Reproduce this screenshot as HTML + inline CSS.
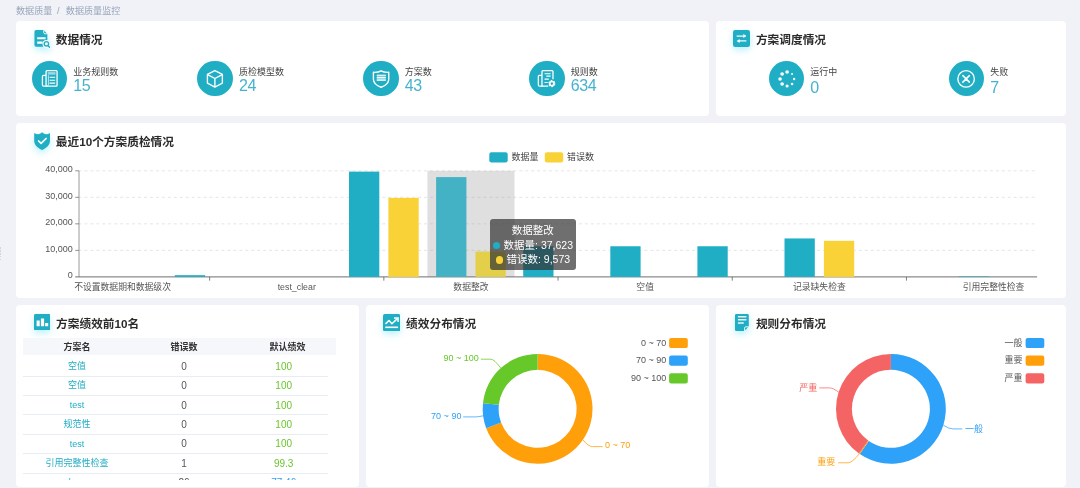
<!DOCTYPE html>
<html lang="zh-CN">
<head>
<meta charset="utf-8">
<title>数据质量监控</title>
<style>
*{box-sizing:border-box;margin:0;padding:0}
html,body{width:1080px;height:488px;overflow:hidden;background:#f0f2f7}
body{position:relative;font-family:"Liberation Sans","Noto Sans CJK SC",sans-serif;color:#333;font-size:9px;line-height:1}
.abs{position:absolute}
.card{position:absolute;background:#fff;border-radius:4px}
.crumb{position:absolute;left:16px;top:5.8px;font-size:9.1px;line-height:11px;color:#9aa5b9;white-space:nowrap}
.ttl{position:absolute;font-size:11.7px;line-height:16px;font-weight:bold;color:#2b2b2b;white-space:nowrap}
.ico{position:absolute;width:17px;height:17px;filter:drop-shadow(0 3px 3.5px rgba(90,220,245,.42))}
.circ{position:absolute;width:35.4px;height:35.4px;border-radius:50%;background:#20aec5}
.circ svg{position:absolute;left:0;top:0;width:100%;height:100%}
.lab{position:absolute;font-size:9px;line-height:11px;color:#444;white-space:nowrap}
.num{position:absolute;font-size:16px;line-height:16px;letter-spacing:-.35px;color:#45b3d0;white-space:nowrap;font-weight:normal}
svg text{font-family:"Liberation Sans","Noto Sans CJK SC",sans-serif}
.dot{display:inline-block;width:7.5px;height:7.5px;border-radius:50%;margin-right:3.4px;vertical-align:-0.5px}
.th{position:absolute;width:80px;text-align:center;font-size:9px;line-height:11px;font-weight:bold;color:#333;white-space:nowrap}
.td{position:absolute;width:100px;text-align:center;font-size:9px;line-height:11px;white-space:nowrap}
</style>
</head>
<body>
<div class="crumb">数据质量<span style="margin:0 6.3px 0 4.6px">/</span>数据质量监控</div>

<!-- grip -->
<div class="abs" style="left:0;top:247.2px;width:1px;height:13.4px;background:repeating-linear-gradient(#d3d5db 0 1.7px,transparent 1.7px 2.9px)"></div>

<div class="card" style="left:16px;top:21px;width:693px;height:94.8px"></div>
<div class="card" style="left:716px;top:21px;width:350px;height:94.8px"></div>
<div class="card" style="left:16px;top:123.2px;width:1050px;height:174.8px"></div>
<div class="card" style="left:16px;top:305.3px;width:343px;height:181.5px"></div>
<div class="card" style="left:366px;top:305.3px;width:343px;height:181.5px"></div>
<div class="card" style="left:716px;top:305.3px;width:350px;height:181.5px"></div>

<svg class="ico" style="left:33px;top:29px;width:18px;height:20px" viewBox="33 29 18 20">
  <path d="M36.05 30.1H43.5L47.35 34V45.1A1.6 1.6 0 0 1 45.75 46.7H36.05A1.6 1.6 0 0 1 34.45 45.1V31.7A1.6 1.6 0 0 1 36.05 30.1Z" fill="#20aec5"/>
  <path d="M43.7 30.3V32.5A1.3 1.3 0 0 0 45 33.8H47.2" fill="none" stroke="#fff" stroke-width=".9"/>
  <path d="M37.2 38.25H45.6M37.2 42.6H42.6" stroke="#fff" stroke-width="2.1"/>
  <circle cx="46.4" cy="43.8" r="3.9" fill="#fff"/>
  <path d="M47.9 45.4L49.6 47.3" stroke="#fff" stroke-width="2.8" stroke-linecap="round"/>
  <circle cx="46.4" cy="43.8" r="2.2" fill="none" stroke="#20aec5" stroke-width="1.4"/>
  <path d="M48 45.5L49.5 47.2" stroke="#20aec5" stroke-width="1.4" stroke-linecap="round"/>
</svg>
<div class="ttl" style="left:55.8px;top:31.5px">数据情况</div>

<svg class="ico" style="left:733.2px;top:30.2px" viewBox="0 0 17 17">
  <rect x="0" y="0" width="17" height="17" rx="2.2" fill="#20aec5"/>
  <path d="M3.6 6.1H12.4" stroke="#fff" stroke-width="1.2"/>
  <path d="M10.4 4.1L13.4 6.1L10.4 8.1Z" fill="#fff"/>
  <path d="M5.2 10.9H13.4" stroke="#fff" stroke-width="1.2"/>
  <path d="M6.6 8.9L3.6 10.9L6.6 12.9Z" fill="#fff"/>
</svg>
<div class="ttl" style="left:755.9px;top:31.5px">方案调度情况</div>

<svg class="ico" style="left:33.7px;top:131.6px;width:16.2px;height:18px" viewBox="0 0 16.2 18">
  <path d="M8.1 .1C7.2 1.5 5.6 2.3 4.1 2.3C2.7 2.3 1.4 1.9 .2 1.1V8.8C.2 12.9 3.6 16.2 8.1 17.9C12.6 16.2 16 12.9 16 8.8V1.1C14.8 1.9 13.5 2.3 12.1 2.3C10.6 2.3 9 1.5 8.1 .1Z" fill="#20aec5"/>
  <path d="M4.6 9L7.1 11.4L12.1 6.5" fill="none" stroke="#fff" stroke-width="1.7" stroke-linecap="round" stroke-linejoin="round"/>
</svg>
<div class="ttl" style="left:55.8px;top:134.0px">最近10个方案质检情况</div>

<svg class="ico" style="left:33.9px;top:313.8px;width:16.6px;height:16.6px" viewBox="0 0 16.6 16.6">
  <rect width="16.6" height="16.6" rx="1.4" fill="#20aec5"/>
  <path d="M2.6 6.6H5.7V12.2H2.6ZM6.9 4.4H10.1V12.2H6.9ZM11.1 8.9H14.2V12.2H11.1Z" fill="#fff"/>
</svg>
<div class="ttl" style="left:56.1px;top:315.9px">方案绩效前10名</div>

<svg class="ico" style="left:383px;top:313.8px;width:17.3px;height:17.4px" viewBox="0 0 17.3 17.4">
  <rect width="17.3" height="17.4" rx="1.8" fill="#20aec5"/>
  <path d="M2.5 9.9L6 6.5L8.9 9.7L14.4 4.6" fill="none" stroke="#fff" stroke-width="1.5" stroke-linejoin="round"/>
  <path d="M11 4H15.1V8.1" fill="none" stroke="#fff" stroke-width="1.5"/>
  <path d="M2.3 13.3H15.1" stroke="#fff" stroke-width="1.6"/>
</svg>
<div class="ttl" style="left:406.1px;top:315.9px">绩效分布情况</div>

<svg class="ico" style="left:735px;top:313.8px;width:13.8px;height:17px" viewBox="0 0 13.8 17">
  <path d="M1.3 0H12.5A1.3 1.3 0 0 1 13.8 1.3V12.4L9.4 17H1.3A1.3 1.3 0 0 1 0 15.7V1.3A1.3 1.3 0 0 1 1.3 0Z" fill="#20aec5"/>
  <path d="M2.9 2.7H11.4M2.9 5.7H11.4M2.9 9H8.8" stroke="#fff" stroke-width="1.4" opacity=".9"/>
  <path d="M9.6 17V14.1A1.3 1.3 0 0 1 10.9 12.8H13.8" fill="none" stroke="#fff" stroke-width=".9"/>
</svg>
<div class="ttl" style="left:755.9px;top:315.9px">规则分布情况</div>
<div class="circ" style="left:31.7px;top:60.8px"><svg viewBox="0 0 36 36"><g fill="none" stroke="#fff" stroke-width="1.3" stroke-linejoin="round">
<rect x="14.3" y="9.8" width="11.2" height="15.8" rx="1"/>
<path d="M14.3 14.6H11.8A1.2 1.2 0 0 0 10.6 15.8V24.4A1.2 1.2 0 0 0 11.8 25.6H16"/>
</g><rect x="16" y="11.3" width="7.9" height="2.6" fill="#fff" opacity=".55"/>
<path d="M17.8 16.5H23.6M17.8 19.5H23.6M17.8 22.5H23.6" stroke="#fff" stroke-width="1.1"/>
<path d="M16.7 14.5V24.8" stroke="#fff" stroke-width=".9" opacity=".8"/></svg></div>
<div class="lab" style="left:73.2px;top:66.6px">业务规则数</div>
<div class="num" style="left:73.2px;top:78.0px">15</div>
<div class="circ" style="left:197.4px;top:60.8px"><svg viewBox="0 0 36 36"><g fill="none" stroke="#fff" stroke-width="1.4" stroke-linejoin="round">
<path d="M18.2 9.7L25.8 13.7V22.5L18.2 26.5L10.6 22.5V13.7Z"/>
<path d="M10.8 13.9L18.2 17.8L25.6 13.9M18.2 17.8V26.3"/></g></svg></div>
<div class="lab" style="left:238.9px;top:66.6px">质检模型数</div>
<div class="num" style="left:238.9px;top:78.0px">24</div>
<div class="circ" style="left:363.2px;top:60.8px"><svg viewBox="0 0 36 36"><path d="M18.4 10C16.4 11.2 13.8 11.7 10.6 11.5V18.5C10.6 22.5 14 25 18.4 26.7C22.8 25 26.2 22.5 26.2 18.5V11.5C23 11.7 20.4 11.2 18.4 10Z" fill="none" stroke="#fff" stroke-width="1.4" stroke-linejoin="round"/>
<rect x="14" y="14" width="9.2" height="6" fill="#fff" opacity=".4"/>
<path d="M14 14.5H23.2M14 17H23.2M14 19.5H23.2" stroke="#fff" stroke-width="1.2"/></svg></div>
<div class="lab" style="left:404.7px;top:66.6px">方案数</div>
<div class="num" style="left:404.7px;top:78.0px">43</div>
<div class="circ" style="left:529.2px;top:60.8px"><svg viewBox="0 0 36 36"><g fill="none" stroke="#fff" stroke-width="1.3" stroke-linejoin="round">
<path d="M19.6 25.6H13.2V10.8A1 1 0 0 1 14.2 9.8H23.4A1 1 0 0 1 24.4 10.8V18.6"/>
<path d="M13.2 14.6H10.7A1.2 1.2 0 0 0 9.5 15.8V24.4A1.2 1.2 0 0 0 10.7 25.6H14"/>
</g><path d="M15.8 12.9H22M17.6 15.4H22M15.8 18.4H20.2M15.8 21.8H19" stroke="#fff" stroke-width="1.1"/>
<circle cx="23.2" cy="23" r="2.5" fill="none" stroke="#fff" stroke-width="2.2" stroke-dasharray="1.5 1.12"/>
<circle cx="23.2" cy="23" r="2.1" fill="none" stroke="#fff" stroke-width="1.5"/></svg></div>
<div class="lab" style="left:570.7px;top:66.6px">规则数</div>
<div class="num" style="left:570.7px;top:78.0px">634</div>
<div class="circ" style="left:768.8px;top:60.8px"><svg viewBox="0 0 36 36"><circle cx="18.40" cy="11.15" r="1.85" fill="#fff"/><circle cx="23.46" cy="13.24" r="1.0" fill="#fff"/><circle cx="25.55" cy="18.30" r="1.2" fill="#fff"/><circle cx="23.46" cy="23.36" r="1.3" fill="#fff"/><circle cx="18.40" cy="25.45" r="1.6" fill="#fff"/><circle cx="13.34" cy="23.36" r="1.85" fill="#fff"/><circle cx="11.25" cy="18.30" r="1.85" fill="#fff"/><circle cx="13.34" cy="13.24" r="1.85" fill="#fff"/></svg></div>
<div class="lab" style="left:810.3px;top:66.6px">运行中</div>
<div class="num" style="left:810.3px;top:79.7px">0</div>
<div class="circ" style="left:948.8px;top:60.8px"><svg viewBox="0 0 36 36"><circle cx="17.4" cy="18.2" r="8.4" fill="none" stroke="#fff" stroke-width="1.4"/>
<path d="M14.1 14.9L20.7 21.5M20.7 14.9L14.1 21.5" stroke="#fff" stroke-width="1.6" stroke-linecap="round"/></svg></div>
<div class="lab" style="left:990.3px;top:66.6px">失败</div>
<div class="num" style="left:990.3px;top:79.7px">7</div>
<svg class="abs" style="left:0;top:0" width="1080" height="488" viewBox="0 0 1080 488">
<path d="M78.5 250.37H1037.1" stroke="#dedede" stroke-width=".8" stroke-dasharray="2.98 2.977"/>
<path d="M78.5 223.85H1037.1" stroke="#dedede" stroke-width=".8" stroke-dasharray="2.98 2.977"/>
<path d="M78.5 197.32H1037.1" stroke="#dedede" stroke-width=".8" stroke-dasharray="2.98 2.977"/>
<path d="M78.5 170.80H1037.1" stroke="#dedede" stroke-width=".8" stroke-dasharray="2.98 2.977"/>
<rect x="427.40" y="170.80" width="87.10" height="106.10" fill="rgba(150,150,150,.3)"/>
<path d="M79.0 170.79999999999998V276.9" stroke="#9a9a9a" stroke-width="1"/>
<path d="M75.2 276.9H1037.1" stroke="#666" stroke-width=".95"/>
<rect x="174.81" y="275.18" width="30.30" height="1.72" fill="#20aec5"/>
<rect x="349.01" y="171.60" width="30.30" height="105.30" fill="#20aec5"/>
<rect x="436.11" y="177.10" width="30.30" height="99.80" fill="#42b2c4"/>
<rect x="523.21" y="246.26" width="30.30" height="30.64" fill="#20aec5"/>
<rect x="610.31" y="246.26" width="30.30" height="30.64" fill="#20aec5"/>
<rect x="697.41" y="246.26" width="30.30" height="30.64" fill="#20aec5"/>
<rect x="784.51" y="238.44" width="30.30" height="38.46" fill="#20aec5"/>
<rect x="958.71" y="276.37" width="30.30" height="0.53" fill="#20aec5"/>
<rect x="388.39" y="197.86" width="30.30" height="79.04" fill="#f9d237"/>
<rect x="475.49" y="251.51" width="30.30" height="25.39" fill="#e3cf49"/>
<rect x="823.89" y="240.83" width="30.30" height="36.07" fill="#f9d237"/>
<text x="72.8" y="278.40" font-size="9" fill="#555" text-anchor="end">0</text>
<path d="M75.2 250.37H79.0" stroke="#777" stroke-width=".8"/>
<text x="72.8" y="251.87" font-size="9" fill="#555" text-anchor="end">10,000</text>
<path d="M75.2 223.85H79.0" stroke="#777" stroke-width=".8"/>
<text x="72.8" y="225.35" font-size="9" fill="#555" text-anchor="end">20,000</text>
<path d="M75.2 197.32H79.0" stroke="#777" stroke-width=".8"/>
<text x="72.8" y="198.82" font-size="9" fill="#555" text-anchor="end">30,000</text>
<path d="M75.2 170.80H79.0" stroke="#777" stroke-width=".8"/>
<text x="72.8" y="172.30" font-size="9" fill="#555" text-anchor="end">40,000</text>
<path d="M209.65 276.9v3.75" stroke="#555" stroke-width=".75"/>
<path d="M383.85 276.9v3.75" stroke="#555" stroke-width=".75"/>
<path d="M558.05 276.9v3.75" stroke="#555" stroke-width=".75"/>
<path d="M732.25 276.9v3.75" stroke="#555" stroke-width=".75"/>
<path d="M906.45 276.9v3.75" stroke="#555" stroke-width=".75"/>
<text x="122.55" y="289.9" font-size="8.8" fill="#555" text-anchor="middle">不设置数据期和数据级次</text>
<text x="296.75" y="289.9" font-size="8.8" fill="#555" text-anchor="middle">test_clear</text>
<text x="470.95" y="289.9" font-size="8.8" fill="#555" text-anchor="middle">数据整改</text>
<text x="645.15" y="289.9" font-size="8.8" fill="#555" text-anchor="middle">空值</text>
<text x="819.35" y="289.9" font-size="8.8" fill="#555" text-anchor="middle">记录缺失检查</text>
<text x="993.55" y="289.9" font-size="8.8" fill="#555" text-anchor="middle">引用完整性检查</text>
<rect x="489.3" y="152.2" width="18.4" height="10.3" rx="2.2" fill="#20aec5"/>
<text x="511.4" y="160" font-size="9" fill="#444">数据量</text>
<rect x="544.8" y="152.2" width="18.4" height="10.3" rx="2.2" fill="#f9d237"/>
<text x="566.9" y="160" font-size="9" fill="#444">错误数</text>
</svg>
<div class="abs" id="tip" style="left:489.8px;top:218.9px;width:86.1px;height:51.3px;border-radius:3px;background:rgba(50,50,50,.7);color:#fff;font-size:10.5px;line-height:14.7px;text-align:center;padding-top:4.0px;white-space:nowrap">数据整改<br><span class="dot" style="background:#20aec5"></span>数据量: 37,623<br><span class="dot" style="background:#f9d237"></span>错误数: 9,573</div>
<div class="abs" style="left:23.4px;top:337.7px;width:312.4px;height:17px;background:#f6f7fb"></div>
<div class="th" style="left:36.9px;top:341.9px">方案名</div>
<div class="th" style="left:144.0px;top:341.9px">错误数</div>
<div class="th" style="left:247.4px;top:341.9px">默认绩效</div>
<div class="abs" style="left:0;top:0;width:360px;height:480px;overflow:hidden">
<div class="td" style="left:26.9px;top:361.0px;color:#20aec5">空值</div><div class="td" style="left:134.0px;top:360.7px;color:#555;font-size:10px">0</div><div class="td" style="left:233.7px;top:360.7px;color:#6ac52c;font-size:10px">100</div>
<div class="abs" style="left:23.4px;top:376.1px;width:305.1px;height:.8px;background:#e8edf3"></div>
<div class="td" style="left:26.9px;top:380.4px;color:#20aec5">空值</div><div class="td" style="left:134.0px;top:380.1px;color:#555;font-size:10px">0</div><div class="td" style="left:233.7px;top:380.1px;color:#6ac52c;font-size:10px">100</div>
<div class="abs" style="left:23.4px;top:395.0px;width:305.1px;height:.8px;background:#e8edf3"></div>
<div class="td" style="left:26.9px;top:399.8px;color:#20aec5">test</div><div class="td" style="left:134.0px;top:399.5px;color:#555;font-size:10px">0</div><div class="td" style="left:233.7px;top:399.5px;color:#6ac52c;font-size:10px">100</div>
<div class="abs" style="left:23.4px;top:414.1px;width:305.1px;height:.8px;background:#e8edf3"></div>
<div class="td" style="left:26.9px;top:419.2px;color:#20aec5">规范性</div><div class="td" style="left:134.0px;top:418.9px;color:#555;font-size:10px">0</div><div class="td" style="left:233.7px;top:418.9px;color:#6ac52c;font-size:10px">100</div>
<div class="abs" style="left:23.4px;top:433.8px;width:305.1px;height:.8px;background:#e8edf3"></div>
<div class="td" style="left:26.9px;top:438.6px;color:#20aec5">test</div><div class="td" style="left:134.0px;top:438.3px;color:#555;font-size:10px">0</div><div class="td" style="left:233.7px;top:438.3px;color:#6ac52c;font-size:10px">100</div>
<div class="abs" style="left:23.4px;top:453.0px;width:305.1px;height:.8px;background:#e8edf3"></div>
<div class="td" style="left:26.9px;top:458.0px;color:#20aec5">引用完整性检查</div><div class="td" style="left:134.0px;top:457.7px;color:#555;font-size:10px">1</div><div class="td" style="left:233.7px;top:457.7px;color:#6ac52c;font-size:10px">99.3</div>
<div class="abs" style="left:23.4px;top:472.8px;width:305.1px;height:.8px;background:#e8edf3"></div>
<div class="td" style="left:26.9px;top:477.4px;color:#20aec5">demo</div><div class="td" style="left:134.0px;top:477.1px;color:#555;font-size:10px">26</div><div class="td" style="left:233.7px;top:477.1px;color:#2e9ff5;font-size:10px">77.46</div>
</div>
<svg class="abs" style="left:0;top:0" width="1080" height="488" viewBox="0 0 1080 488">
<path d="M537.60 353.95A54.9 54.9 0 1 1 486.21 428.17L501.09 422.57A39.0 39.0 0 1 0 537.60 369.85Z" fill="#ff9f0a"/>
<path d="M486.21 428.17A54.9 54.9 0 0 1 482.99 403.21L498.81 404.84A39.0 39.0 0 0 0 501.09 422.57Z" fill="#2ea1f8"/>
<path d="M482.99 403.21A54.9 54.9 0 0 1 537.60 353.95L537.60 369.85A39.0 39.0 0 0 0 498.81 404.84Z" fill="#67c82a"/>
<path d="M583.1 440.0Q588.5 446.6 592.5 446.6H602.7" fill="none" stroke="#ff9f0a" stroke-width=".75"/>
<text x="605" y="448.3" font-size="9" fill="#ff9f0a">0 ~ 70</text>
<path d="M483.2 415.8Q478 416.9 475.5 416.9H463.2" fill="none" stroke="#2ea1f8" stroke-width=".75"/>
<text x="461.4" y="419.1" font-size="9" fill="#2ea1f8" text-anchor="end">70 ~ 90</text>
<path d="M500.9 368.2Q494 359.2 491 359.2H480.8" fill="none" stroke="#67c82a" stroke-width=".75"/>
<text x="478.8" y="361.4" font-size="9" fill="#67c82a" text-anchor="end">90 ~ 100</text>
<rect x="669.1" y="337.90" width="18.7" height="10.2" rx="2.2" fill="#ff9f0a"/>
<text x="666.2" y="345.50" font-size="9" fill="#555" text-anchor="end">0 ~ 70</text>
<rect x="669.1" y="355.55" width="18.7" height="10.2" rx="2.2" fill="#2ea1f8"/>
<text x="666.2" y="363.15" font-size="9" fill="#555" text-anchor="end">70 ~ 90</text>
<rect x="669.1" y="373.20" width="18.7" height="10.2" rx="2.2" fill="#67c82a"/>
<text x="666.2" y="380.80" font-size="9" fill="#555" text-anchor="end">90 ~ 100</text>
<path d="M890.90 353.95A54.9 54.9 0 1 1 859.80 454.09L868.81 440.99A39.0 39.0 0 1 0 890.90 369.85Z" fill="#2ea1f8"/>
<path d="M859.80 454.09A54.9 54.9 0 0 1 858.94 453.49L868.20 440.56A39.0 39.0 0 0 0 868.81 440.99Z" fill="#ff9f0a"/>
<path d="M858.94 453.49A54.9 54.9 0 0 1 890.90 353.95L890.90 369.85A39.0 39.0 0 0 0 868.20 440.56Z" fill="#f46464"/>
<path d="M943.3 425.1Q949 428.9 952.5 428.9H962.2" fill="none" stroke="#2ea1f8" stroke-width=".75"/>
<text x="965" y="431.6" font-size="9" fill="#2ea1f8">一般</text>
<path d="M859.4 453.8Q852 462.8 848 462.8H838.2" fill="none" stroke="#ff9f0a" stroke-width=".75"/>
<text x="835.3" y="465.2" font-size="9" fill="#ff9f0a" text-anchor="end">重要</text>
<path d="M838.6 392.1Q833 387.9 829.5 387.9H819.3" fill="none" stroke="#f46464" stroke-width=".75"/>
<text x="817.3" y="390.6" font-size="9" fill="#f46464" text-anchor="end">严重</text>
<rect x="1025.6" y="337.90" width="18.7" height="10.2" rx="2.2" fill="#2ea1f8"/>
<text x="1022.6" y="345.50" font-size="9" fill="#555" text-anchor="end">一般</text>
<rect x="1025.6" y="355.55" width="18.7" height="10.2" rx="2.2" fill="#ff9f0a"/>
<text x="1022.6" y="363.15" font-size="9" fill="#555" text-anchor="end">重要</text>
<rect x="1025.6" y="373.20" width="18.7" height="10.2" rx="2.2" fill="#f46464"/>
<text x="1022.6" y="380.80" font-size="9" fill="#555" text-anchor="end">严重</text>
</svg>
</body>
</html>
